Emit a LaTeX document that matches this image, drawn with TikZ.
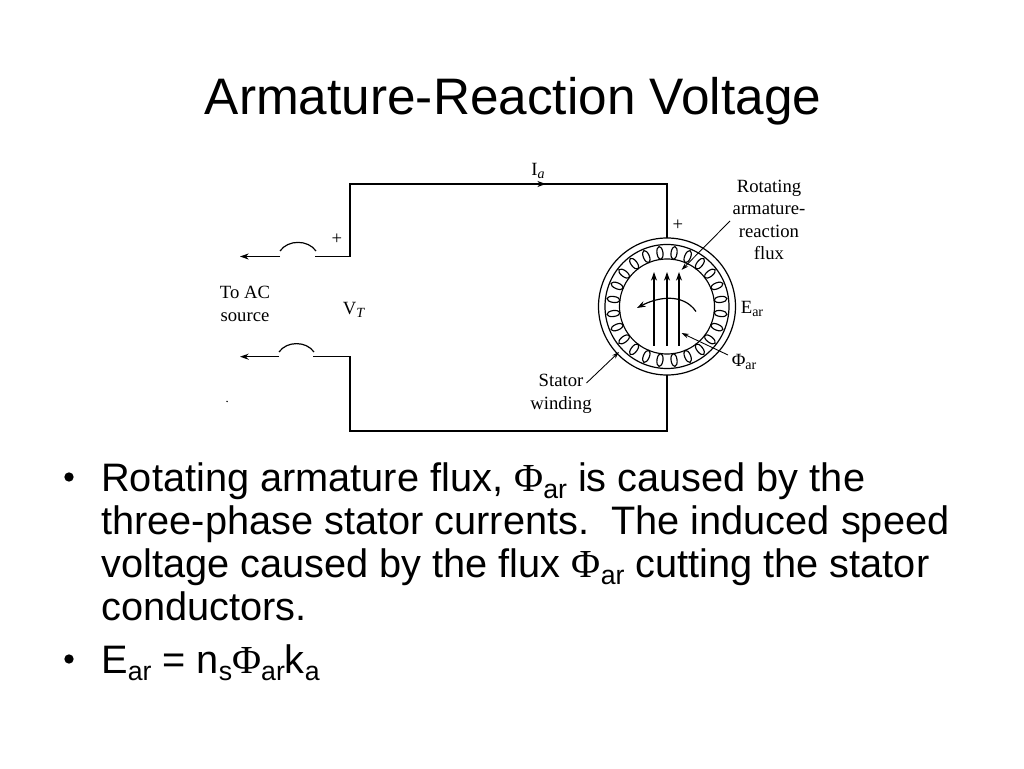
\documentclass[tikz,border=0pt]{standalone}
\usepackage{fontspec}
\setmainfont{Liberation Sans}
\newfontfamily\scanfont{Liberation Serif}
\usetikzlibrary{shapes.geometric, arrows, arrows.meta}
\tikzstyle{arrow} = [->,>={Stealth[length=6.5pt,width=4.5pt]}]
\tikzstyle{thinarrow} = [->,>={Stealth[length=5.5pt,width=3.5pt]},line width=0.65pt]
\tikzstyle{wire} = [line width=0.9pt]
\newcommand{\lowtext}[1]{\raisebox{-0.18em}{\fontsize{20}{20}\selectfont #1}}
\newcommand{\labsub}[1]{\raisebox{-0.12em}{\fontsize{10.5}{10.5}\selectfont #1}}
\newcommand{\fluxsym}{{\scanfont Φ}\lowtext{ar}}
\begin{document}
\begin{tikzpicture}[x=0.75pt, y=0.75pt, label/.style = {font=\scanfont\fontsize{14}{16.9}\selectfont, align=center, inner sep=0pt}]
\useasboundingbox (0,0) rectangle (1024,768);

\node (title) [anchor=base, inner sep=0pt, font=\fontsize{38.5}{44}\selectfont] at (513,653) {Armature-Reaction Voltage};
\node (bullet1) [circle, fill, inner sep=0pt, minimum size=7pt] at (69,291) {};
\node (body1) [anchor=north west, inner sep=0pt, align=left, font=\fontsize{29.8}{32.3}\selectfont] at (101,305.5)
  {Rotating armature flux, \fluxsym{} is caused by the\\
   three-phase stator currents.\ \ The induced speed\\
   voltage caused by the flux \fluxsym{} cutting the stator\\
   conductors.};
\node (bullet2) [circle, fill, inner sep=0pt, minimum size=7pt] at (69,109) {};
\node (body2) [anchor=base west, inner sep=0pt, font=\fontsize{29.8}{32.3}\selectfont] at (101,95)
  {E\lowtext{ar} = n\lowtext{s}\fluxsym{}k\lowtext{a}};

\coordinate (topleft) at (350,584);
\coordinate (topright) at (667,584);
\coordinate (midleft) at (350,511.5);
\coordinate (botleft) at (350,337);
\coordinate (botright) at (667,337);
\coordinate (lowleft) at (350,411.3);
\coordinate (stator) at (667,461.5);
\coordinate (statortop) at (667,530);
\coordinate (statorbot) at (667,393);

\coordinate (gap1r) at (315,511.5);
\coordinate (gap1l) at (280,511.5);
\coordinate (end1) at (240,511.5);
\coordinate (gap2r) at (313,411.3);
\coordinate (gap2l) at (279,411.3);
\coordinate (end2) at (240,411.3);

\draw[wire] (statortop) -- (topright) -- (topleft) -- (midleft) -- (gap1r);
\draw[wire] (statorbot) -- (botright) -- (botleft) -- (lowleft) -- (gap2r);
\draw[arrow, wire] (gap1l) -- (end1);
\draw[arrow, wire] (gap2l) -- (end2);
\draw[wire] (316,517) to [out=125,in=55] (280,517);
\draw[wire] (314,416) to [out=125,in=55] (279,416);
\draw[arrow, wire] (530,584) -- (546,584);

\draw[wire] (stator) circle (68.5);
\draw[wire] (stator) circle (62);

\begin{scope}[shift={(stator)}]
\foreach \a [evaluate=\a as \b using \a+15] in {7.5,22.5,...,352.5} {
  \draw[line width=0.85pt, rotate=\a] (54,0) ellipse (6.5 and 3);
  \draw[line width=0.85pt] (\a:47.5) to [bend right=7] (\b:47.5);
}
\end{scope}

\coordinate (flux1s) at (654,422);
\coordinate (flux1e) at (654,496);
\coordinate (flux2s) at (667,422);
\coordinate (flux2e) at (667,496);
\coordinate (flux3s) at (679,422);
\coordinate (flux3e) at (679,496);
\draw[arrow, wire] (flux1s) -- (flux1e);
\draw[arrow, wire] (flux2s) -- (flux2e);
\draw[arrow, wire] (flux3s) -- (flux3e);
\coordinate (turns) at (696,456.5);
\coordinate (turne) at (637,460);
\draw[arrow, wire] (turns) to [out=125,in=28] (turne);

\node (ia) [label, anchor=base] at (538,592) {I\labsub{\textit{a}}};
\node (plus1) [label] at (337,529) {+};
\node (plus2) [label] at (678,543) {+};
\node (vt) [label] at (354,458) {V\labsub{\textit{T}}};
\node (source) [label] at (245,464) {To AC\\source};
\node (rotating) [label] at (769,548) {Rotating\\armature-\\reaction\\flux};
\node (ear) [label] at (752,459) {E\labsub{ar}};
\node (phiar) [label] at (744,406) {Φ\labsub{ar}};
\node (winding) [label] at (561,374) {Stator\\winding};
\node (speck) [circle, fill, inner sep=0.4pt] at (227,366.5) {};

\coordinate (rotfrom) at (730,547);
\coordinate (rotto) at (681.5,498);
\coordinate (phifrom) at (728,413);
\coordinate (phito) at (681.5,435);
\coordinate (statfrom) at (586.5,385);
\coordinate (statto) at (619,416);
\draw[thinarrow] (rotfrom) -- (rotto);
\draw[thinarrow] (phifrom) -- (phito);
\draw[thinarrow] (statfrom) -- (statto);
\end{tikzpicture}
\end{document}
